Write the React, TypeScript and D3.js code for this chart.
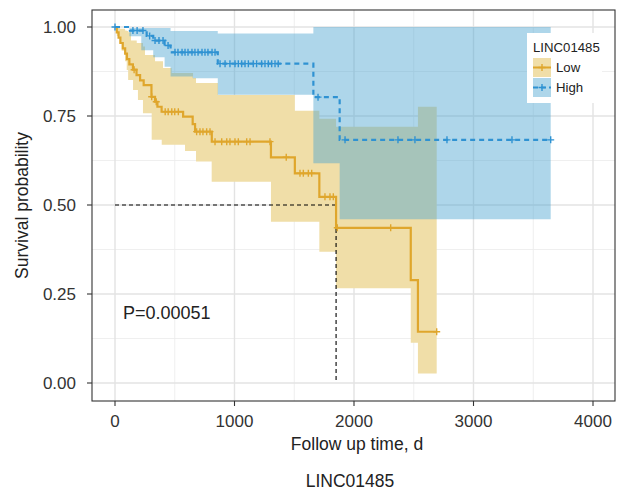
import { useMemo } from 'react';
import * as d3 from 'd3';

// Kaplan-Meier steps (time in days, survival)
const lowTime = [0, 15, 30, 45, 65, 85, 100, 120, 150, 180, 210, 240, 305, 335, 355, 390, 570, 650, 670, 810, 1305, 1505, 1710, 1850, 2475, 2535, 2692];
const lowSurv = [1.0, 0.985, 0.97, 0.955, 0.94, 0.925, 0.91, 0.895, 0.88, 0.865, 0.85, 0.837, 0.804, 0.79, 0.776, 0.762, 0.748, 0.727, 0.706, 0.678, 0.634, 0.589, 0.523, 0.436, 0.289, 0.144, 0.144];
const highTime = [0, 125, 265, 320, 415, 465, 860, 1660, 1880, 3646];
const highSurv = [1.0, 0.99, 0.975, 0.962, 0.948, 0.929, 0.897, 0.803, 0.683, 0.683];

// confidence bands
const lowBandTime = [0, 15, 40, 56, 84, 98, 110, 134, 151, 182, 192, 234, 251, 307, 335, 391, 402, 474, 586, 653, 678, 809, 862, 1305, 1505, 1710, 1850, 2475, 2535, 2692];
const lowUpper = [1.0, 1.0, 0.995, 0.995, 0.99, 0.989, 0.985, 0.962, 0.962, 0.955, 0.955, 0.945, 0.921, 0.921, 0.904, 0.904, 0.885, 0.871, 0.871, 0.857, 0.843, 0.843, 0.809, 0.809, 0.765, 0.742, 0.72, 0.72, 0.776, 0.776];
const lowLower = [1.0, 0.975, 0.955, 0.933, 0.904, 0.879, 0.851, 0.851, 0.823, 0.823, 0.795, 0.758, 0.758, 0.683, 0.683, 0.669, 0.669, 0.669, 0.652, 0.652, 0.622, 0.565, 0.565, 0.453, 0.453, 0.369, 0.266, 0.113, 0.027, 0.027];
const highBandTime = [0, 120, 220, 320, 415, 465, 650, 860, 1660, 1880, 3646];
const highUpper = [1.0, 0.997, 0.997, 0.997, 0.997, 0.989, 0.989, 0.982, 1.0, 1.0, 1.0];
const highLower = [1.0, 0.974, 0.935, 0.915, 0.888, 0.861, 0.856, 0.81, 0.617, 0.46, 0.46];

// censored observations
const lowCensor = [160, 307, 345, 420, 445, 475, 500, 530, 683, 711, 736, 767, 795, 837, 893, 935, 962, 1004, 1032, 1102, 1130, 1297, 1433, 1548, 1576, 1618, 1646, 1757, 1799, 1827, 1860, 2307, 2692];
const highCensor = [0, 150, 185, 234, 290, 335, 368, 402, 444, 502, 527, 561, 586, 611, 644, 669, 695, 728, 753, 778, 812, 837, 879, 921, 962, 1004, 1032, 1060, 1088, 1116, 1157, 1185, 1227, 1255, 1283, 1311, 1339, 1366, 1699, 1925, 2368, 2510, 2778, 3322, 3646];

const lowMedian = 1850;
const xTicks = [0, 1000, 2000, 3000, 4000];
const xMinor = [500, 1500, 2500, 3500];
const yTicks = [0, 0.25, 0.5, 0.75, 1];
const yMinor = [0.125, 0.375, 0.625, 0.875];
const groupNames = ['Low', 'High'];
const pValue = 'P=0.00051';

const W = 619, H = 496;
const panel = { left: 92, right: 615, top: 10, bottom: 401 };
const font = '"Liberation Sans", Arial, Helvetica, sans-serif';
const lowColor = '#DFA62C';
const highColor = '#2F92D2';
const lowFill = '#F0DEA8';
const highFill = 'rgb(75,164,208)';

const stepAt = (times, vals, t) => {
  let v = vals[0];
  for (let i = 0; i < times.length; i++) if (times[i] <= t) v = vals[i];
  return v;
};

export default function App() {
  const x = useMemo(() => d3.scaleLinear().domain([0, 4000]).range([115, 593]), []);
  const y = useMemo(() => d3.scaleLinear().domain([0, 1]).range([383, 27]), []);

  const line = d3.line<[number, number]>().x(d => x(d[0])).y(d => y(d[1])).curve(d3.curveStepAfter);
  const area = d3.area<[number, number, number]>()
    .x(d => x(d[0])).y0(d => y(d[2])).y1(d => y(d[1])).curve(d3.curveStepAfter);

  const lowPts = lowTime.map((t, i) => [t, lowSurv[i]] as [number, number]);
  const highPts = highTime.map((t, i) => [t, highSurv[i]] as [number, number]);
  const lowBand = lowBandTime.map((t, i) => [t, lowUpper[i], lowLower[i]] as [number, number, number]);
  const highBand = highBandTime.map((t, i) => [t, highUpper[i], highLower[i]] as [number, number, number]);

  const plus = (t, s, k) => {
    const cx = x(t), cy = y(s);
    return `M${cx - 3.5},${cy}h7M${cx},${cy - 3.5}v7`;
  };
  const lowPlus = lowCensor.map(t => plus(t, stepAt(lowTime, lowSurv, t), 0)).join('');
  const highPlus = highCensor.map(t => plus(t, stepAt(highTime, highSurv, t), 0)).join('');

  const grid = '#EBEBEB';

  return (
    <svg width={W} height={H} style={{ position: 'absolute', left: 0, top: 0, background: '#fff' }} fontFamily={font}>
      <rect x={0} y={0} width={W} height={H} fill="#fff" />
      {/* grid */}
      {xMinor.map(t => <line key={'xm' + t} x1={x(t)} x2={x(t)} y1={panel.top} y2={panel.bottom} stroke={grid} strokeWidth={0.8} />)}
      {yMinor.map(t => <line key={'ym' + t} x1={panel.left} x2={panel.right} y1={y(t)} y2={y(t)} stroke={grid} strokeWidth={0.8} />)}
      {xTicks.map(t => <line key={'xg' + t} x1={x(t)} x2={x(t)} y1={panel.top} y2={panel.bottom} stroke="#E3E3E3" strokeWidth={1.4} />)}
      {yTicks.map(t => <line key={'yg' + t} x1={panel.left} x2={panel.right} y1={y(t)} y2={y(t)} stroke="#E3E3E3" strokeWidth={1.4} />)}

      {/* confidence bands */}
      <path d={area(lowBand) || ''} fill={lowFill} />
      <path d={area(highBand) || ''} fill={highFill} fillOpacity={0.45} />

      {/* median line */}
      <path d={`M${x(0)},${y(0.5)}H${x(lowMedian)}V${y(0)}`} fill="none" stroke="#000" strokeWidth={1.1} strokeDasharray="4,3" />

      {/* curves */}
      <path d={line(lowPts) || ''} fill="none" stroke={lowColor} strokeWidth={2.2} />
      <path d={lowPlus} fill="none" stroke={lowColor} strokeWidth={1.4} />
      <path d={line(highPts) || ''} fill="none" stroke={highColor} strokeWidth={2.2} strokeDasharray="5,4" />
      <path d={highPlus} fill="none" stroke={highColor} strokeWidth={1.4} />

      {/* panel border */}
      <rect x={panel.left} y={panel.top} width={panel.right - panel.left} height={panel.bottom - panel.top} fill="none" stroke="#333" strokeWidth={1.1} />

      {/* axes */}
      {yTicks.map(t => (
        <g key={'yt' + t}>
          <line x1={panel.left - 5} x2={panel.left} y1={y(t)} y2={y(t)} stroke="#333" strokeWidth={1.1} />
          <text x={76} y={y(t) + 6} textAnchor="end" fontSize={17} fill="#333">{t.toFixed(2)}</text>
        </g>
      ))}
      {xTicks.map(t => (
        <g key={'xt' + t}>
          <line x1={x(t)} x2={x(t)} y1={panel.bottom} y2={panel.bottom + 5} stroke="#333" strokeWidth={1.1} />
          <text x={x(t)} y={427} textAnchor="middle" fontSize={17} fill="#333">{t}</text>
        </g>
      ))}
      <text x={357} y={450} textAnchor="middle" fontSize={17.5} fill="#222">Follow up time, d</text>
      <text transform={`translate(28,${(panel.top + panel.bottom) / 2}) rotate(-90)`} textAnchor="middle" fontSize={17.5} fill="#222">Survival probability</text>
      <text x={350} y={487} textAnchor="middle" fontSize={17.5} fill="#222">LINC01485</text>

      <text x={123} y={319} fontSize={18} fill="#222">{pValue}</text>

      {/* legend */}
      <rect x={527} y={33} width={75} height={70} fill="#fff" />
      <text x={533} y={52} fontSize={13.2} fill="#222">LINC01485</text>
      {groupNames.map((g, i) => {
        const ky = 58 + i * 20;
        const col = i === 0 ? lowColor : highColor;
        return (
          <g key={g}>
            <rect x={533} y={ky} width={18} height={19} fill={i === 0 ? lowFill : highFill} fillOpacity={i === 0 ? 1 : 0.45} />
            <line x1={533} x2={551} y1={ky + 9.5} y2={ky + 9.5} stroke={col} strokeWidth={2} strokeDasharray={i === 0 ? undefined : '5,3'} />
            <path d={`M${538.5},${ky + 9.5}h7M${542},${ky + 6}v7`} stroke={col} strokeWidth={1.4} />
            <text x={556} y={ky + 14.3} fontSize={13.2} fill="#222">{g}</text>
          </g>
        );
      })}
    </svg>
  );
}
